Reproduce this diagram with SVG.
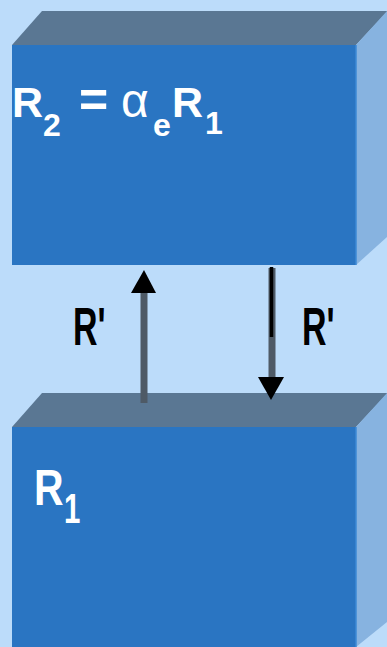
<svg xmlns="http://www.w3.org/2000/svg" width="387" height="647" viewBox="0 0 387 647">
<defs>
<style>
.front{fill:#2a75c2}
.top{fill:#5a7793}
.side{fill:#87b3e0}
.edge{stroke:#3d8ad6;stroke-width:1.5}
.wt{fill:#ffffff;font-family:"Liberation Sans",Arial,sans-serif;font-weight:bold}
.bk{fill:#000000;font-family:"Liberation Sans",Arial,sans-serif;font-weight:bold}
.shaft{stroke:#4e5a66;stroke-width:7;fill:none}
.head{fill:#000000}
</style>
</defs>
<rect width="387" height="647" fill="#bcdcfa"/>
<g id="box-r2">
<polygon class="top" points="12,45 42,11 387,11 387,12 356,45"/>
<polygon class="side" points="356,45 387,11 387,237 356,265"/>
<rect class="front" x="12" y="45" width="344" height="220"/>
<line class="edge" x1="356" y1="45" x2="356" y2="265"/>
<text class="wt" font-size="43"><tspan x="12" y="117">R</tspan><tspan x="43" y="136" font-size="32">2</tspan><tspan x="79" y="117" font-size="50">=</tspan><tspan x="121" y="117" font-size="48" font-weight="normal">α</tspan><tspan x="153" y="136" font-size="32">e</tspan><tspan x="172" y="117">R</tspan><tspan x="205" y="134" font-size="32">1</tspan></text>
</g>
<g id="box-r1">
<polygon class="top" points="12,427 42,393 387,393 387,394 356,427"/>
<polygon class="side" points="356,427 387,393 387,622 356,647"/>
<rect class="front" x="12" y="427" width="344" height="220"/>
<line class="edge" x1="356" y1="427" x2="356" y2="647"/>
<text class="wt" transform="translate(34,505) scale(0.82,1)" font-size="50">R</text>
<text class="wt" transform="translate(64,523) scale(0.7,1)" font-size="42">1</text>
</g>
<g id="connectors">
<line class="shaft" x1="144" y1="403" x2="144" y2="290"/>
<polygon class="head" points="131,293 156,293 144,270"/>
<line class="shaft" x1="272" y1="268" x2="272" y2="380"/>
<line x1="271.5" y1="267" x2="271.5" y2="337" stroke="#000" stroke-width="3.5"/>
<polygon class="head" points="258,377 284,377 271,400"/>
</g>
<g id="labels">
<text class="bk" transform="translate(73,345) scale(0.64,1)" font-size="53">R'</text>
<text class="bk" transform="translate(302,345) scale(0.64,1)" font-size="53">R'</text>
</g>
</svg>
